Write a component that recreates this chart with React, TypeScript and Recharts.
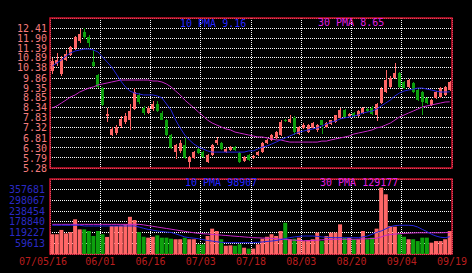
import React from 'react';
import {
  ComposedChart,
  Bar,
  Line,
  XAxis,
  YAxis,
  CartesianGrid,
  ReferenceArea,
  Cell,
} from 'recharts';

// daily prices, 88 sessions
const opens = [
  10.2, 10.6, 10.05, 10.8, 11.05, 11.4, 11.75, 12.2, 11.95, 10.7,
  10.0, 9.35, 7.95, 6.98, 7.05, 7.4, 7.6, 7.75, 8.3, 9.0,
  8.35, 8.1, 8.3, 8.55, 8.1, 7.72, 6.96, 6.1, 6.15, 6.45,
  5.6, 5.8, 6.25, 6.1, 5.6, 5.95, 6.55, 6.55, 6.1, 6.2,
  6.35, 6.05, 5.65, 5.95, 5.8, 5.95, 6.1, 6.55, 6.7, 6.8,
  6.96, 7.75, 7.6, 7.85, 7.0, 7.3, 7.1, 7.3, 7.2, 7.7,
  7.37, 7.5, 7.62, 7.85, 8.25, 7.95, 8.1, 7.95, 8.1, 8.3,
  8.35, 8.0, 8.6, 9.15, 9.41, 9.86, 10.12, 9.66, 9.41, 9.61,
  9.25, 9.15, 8.85, 8.49, 8.85, 8.9, 9.0, 9.25,
];
const highs = [
  10.9, 11.15, 11.0, 11.3, 11.5, 12.0, 12.35, 12.41, 12.05, 11.3,
  10.05, 9.4, 8.35, 7.35, 7.45, 7.95, 8.1, 8.55, 9.35, 9.1,
  8.45, 8.45, 8.7, 8.7, 8.2, 7.8, 7.0, 6.5, 6.7, 6.8,
  5.9, 6.15, 6.3, 6.15, 6.0, 6.5, 6.85, 6.6, 6.3, 6.4,
  6.4, 6.1, 5.9, 6.0, 5.95, 6.15, 6.6, 6.75, 7.0, 7.15,
  7.7, 7.8, 8.0, 7.95, 7.4, 7.55, 7.5, 7.6, 7.5, 7.75,
  7.6, 7.75, 8.0, 8.35, 8.3, 8.1, 8.15, 8.25, 8.4, 8.35,
  8.45, 8.6, 9.4, 10.27, 9.95, 10.65, 10.17, 9.7, 9.8, 9.65,
  9.3, 9.2, 8.9, 8.8, 9.2, 9.4, 9.45, 9.7,
];
const lows = [
  10.05, 10.5, 9.95, 10.75, 11.0, 11.3, 11.65, 11.85, 11.45, 10.4,
  9.35, 8.45, 7.6, 6.9, 6.95, 7.3, 7.5, 7.2, 8.25, 8.55,
  8.0, 8.05, 8.2, 8.15, 7.7, 6.9, 6.25, 5.75, 6.05, 5.75,
  5.3, 5.75, 6.0, 5.8, 5.55, 5.9, 6.45, 6.2, 6.05, 6.15,
  6.15, 5.55, 5.6, 5.65, 5.75, 5.9, 6.05, 6.5, 6.65, 6.75,
  6.9, 7.6, 7.55, 6.95, 6.95, 7.25, 7.05, 7.25, 7.1, 7.0,
  7.3, 7.45, 7.55, 7.8, 7.85, 7.9, 7.9, 7.9, 8.05, 8.15,
  8.0, 7.65, 8.55, 9.1, 9.35, 9.8, 9.35, 9.3, 9.35, 9.1,
  8.7, 7.98, 8.55, 8.45, 8.8, 8.85, 8.95, 9.2,
];
const closes = [
  10.75, 10.8, 10.85, 11.1, 11.45, 11.95, 12.1, 11.95, 11.65, 10.45,
  9.4, 8.5, 8.05, 7.27, 7.35, 7.8, 7.95, 8.2, 9.15, 8.65,
  8.1, 8.35, 8.55, 8.2, 7.75, 6.96, 6.3, 6.45, 6.55, 5.8,
  5.85, 6.1, 6.05, 5.85, 5.95, 6.45, 6.7, 6.25, 6.25, 6.35,
  6.2, 5.6, 5.85, 5.7, 5.9, 6.1, 6.55, 6.7, 6.96, 7.1,
  7.6, 7.65, 7.8, 7.1, 7.35, 7.45, 7.45, 7.55, 7.45, 7.45,
  7.57, 7.7, 7.98, 8.25, 7.9, 8.05, 7.95, 8.2, 8.35, 8.2,
  8.05, 8.55, 9.3, 9.76, 9.86, 10.12, 9.41, 9.35, 9.76, 9.15,
  8.74, 8.64, 8.6, 8.74, 9.15, 9.35, 9.4, 9.66,
];
const volumes = [
  110000, 110000, 134000, 115000, 122000, 193000, 137000, 137000, 128000, 100000,
  128000, 110000, 95000, 156000, 156000, 158000, 165000, 207000, 189000, 122000,
  96000, 91000, 96000, 104000, 91000, 91000, 85000, 82000, 82000, 91000,
  82000, 82000, 54000, 54000, 100000, 141000, 128000, 82000, 46000, 48000,
  46000, 54000, 35000, 30000, 30000, 54000, 85000, 96000, 110000, 100000,
  128000, 174000, 82000, 85000, 91000, 72000, 77000, 82000, 119000, 72000,
  100000, 119000, 119000, 165000, 91000, 91000, 82000, 82000, 128000, 82000,
  91000, 141000, 369000, 332000, 156000, 152000, 110000, 96000, 82000, 82000,
  72000, 91000, 91000, 63000, 72000, 72000, 82000, 128000,
];

// moving averages as drawn (they carry history from before the window)
const pma10 = [
  10.47, 10.63, 10.78, 10.98, 11.14, 11.24, 11.29, 11.34, 11.34, 11.29,
  11.19, 10.93, 10.68, 10.42, 10.07, 9.71, 9.41, 9.2, 9.1, 9.05,
  9.0, 9.0, 9.0, 8.95, 8.85, 8.54, 8.23, 7.72, 7.32, 6.96,
  6.71, 6.5, 6.35, 6.25, 6.15, 6.09, 6.09, 6.09, 6.09, 6.09,
  6.09, 6.09, 6.09, 6.15, 6.15, 6.25, 6.35, 6.4, 6.5, 6.6,
  6.71, 6.81, 6.91, 7.01, 7.11, 7.16, 7.22, 7.27, 7.32, 7.42,
  7.52, 7.62, 7.67, 7.78, 7.83, 7.88, 7.93, 7.98, 8.08, 8.13,
  8.18, 8.28, 8.44, 8.59, 8.74, 8.95, 9.1, 9.2, 9.25, 9.3,
  9.35, 9.35, 9.3, 9.25, 9.2, 9.15, 9.15, 9.16,
];
const pma30 = [
  8.34, 8.44, 8.59, 8.74, 8.9, 9.0, 9.15, 9.25, 9.35, 9.41,
  9.51, 9.56, 9.61, 9.66, 9.71, 9.76, 9.76, 9.76, 9.76, 9.76,
  9.76, 9.76, 9.71, 9.71, 9.66, 9.56, 9.41, 9.2, 9.0, 8.74,
  8.54, 8.34, 8.13, 7.93, 7.72, 7.57, 7.47, 7.37, 7.27, 7.22,
  7.11, 7.06, 7.01, 6.96, 6.91, 6.86, 6.86, 6.81, 6.76, 6.71,
  6.71, 6.65, 6.6, 6.6, 6.6, 6.6, 6.6, 6.6, 6.6, 6.65,
  6.65, 6.71, 6.76, 6.81, 6.86, 6.91, 7.01, 7.06, 7.11, 7.16,
  7.22, 7.32, 7.37, 7.47, 7.57, 7.72, 7.88, 7.98, 8.08, 8.18,
  8.28, 8.39, 8.44, 8.49, 8.54, 8.59, 8.64, 8.65,
];
const vma10 = [
  160000, 160000, 160000, 160000, 160000, 160000, 160000, 156000, 156000, 156000,
  156000, 156000, 156000, 156000, 156000, 156000, 156000, 156000, 156000, 150000,
  143000, 137000, 133000, 128000, 125000, 122000, 120000, 112000, 104000, 95000,
  91000, 88000, 85000, 80000, 75000, 72000, 68000, 65000, 63000, 63000,
  63000, 63000, 63000, 63000, 63000, 65000, 67000, 70000, 72000, 75000,
  80000, 86000, 91000, 95000, 98000, 100000, 100000, 100000, 98000, 95000,
  93000, 91000, 91000, 91000, 91000, 91000, 91000, 91000, 95000, 100000,
  110000, 120000, 128000, 140000, 152000, 158000, 160000, 160000, 160000, 158000,
  150000, 137000, 125000, 110000, 100000, 93000, 91000, 96000,
];
const vma30 = [
  165000, 165000, 165000, 165000, 165000, 165000, 165000, 165000, 165000, 165000,
  165000, 165000, 165000, 165000, 165000, 165000, 165000, 165000, 165000, 165000,
  162000, 158000, 154000, 150000, 146000, 142000, 138000, 134000, 130000, 126000,
  122000, 118000, 115000, 113000, 111000, 109000, 107000, 105000, 103000, 101000,
  99000, 97000, 95000, 93000, 91000, 90000, 89000, 88000, 87000, 85000,
  83000, 81000, 79000, 77000, 75000, 74000, 74000, 75000, 77000, 79000,
  80000, 81000, 82000, 82000, 82000, 82000, 82000, 83000, 84000, 85000,
  86000, 88000, 95000, 104000, 108000, 111000, 113000, 115000, 116000, 117000,
  118000, 118000, 118000, 118000, 118000, 118000, 119000, 120000,
];

const dateTicks = [0, 11, 22, 33, 44, 55, 66, 77, 88];
const dateLabels = ['07/05/16', '06/01', '06/16', '07/03', '07/18', '08/03', '08/20', '09/04', '09/19'];
const priceTicks = [5.28, 5.79, 6.3, 6.81, 7.32, 7.83, 8.34, 8.85, 9.35, 9.86, 10.38, 10.89, 11.39, 11.9, 12.41];
const volumeTicks = [59613, 119227, 178840, 238454, 298067, 357681];

const PRICE_DOMAIN: [number, number] = [5.28, 12.92];
const VOL_DOMAIN: [number, number] = [0, 417295];

const MONO = '"DejaVu Sans Mono", monospace';
const UP = '#ff6666';
const DOWN = '#0da00d';
const BORDER = '#d0102c';
const MA_BLUE = '#2424e0';
const MA_MAG = '#c828c8';

const rows = opens.map((o, i) => ({
  i,
  pos: i + 0.5,
  open: o,
  high: highs[i],
  low: lows[i],
  close: closes[i],
  range: [lows[i], highs[i]],
  vol: volumes[i],
  ma10: pma10[i],
  ma30: pma30[i],
  vma10: vma10[i],
  vma30: vma30[i],
}));

const Candle = (props: any) => {
  const { x, y, width, height, payload } = props;
  if (x == null || y == null || !payload) return null;
  const top = Math.min(y, y + height);
  const h = Math.abs(height);
  const { open, close, high, low } = payload;
  const k = high > low ? h / (high - low) : 0;
  const color = close >= open ? UP : DOWN;
  const bodyTop = top + (high - Math.max(open, close)) * k;
  const bodyH = Math.max(1, Math.abs(open - close) * k);
  const cx = Math.round(x + width / 2) + 0.5;
  return (
    <g>
      <line x1={cx} x2={cx} y1={top} y2={top + h} stroke={color} shapeRendering='crispEdges' />
      <rect x={x} y={bodyTop} width={width} height={bodyH} fill={color} shapeRendering='crispEdges' />
    </g>
  );
};

const DateTick = (props: any) => {
  const { x, y, payload } = props;
  const idx = dateTicks.indexOf(payload.value);
  return (
    <text
      x={x + (idx === 0 ? -7 : 0)}
      y={y}
      dy='0.71em'
      textAnchor='middle'
      fill='#b81e1e'
      fontSize={10}
      fontFamily={MONO}
    >
      {dateLabels[idx]}
    </text>
  );
};

const titleStyle = (left: number, top: number, color: string): React.CSSProperties => ({
  position: 'absolute',
  left,
  top,
  color,
  fontFamily: MONO,
  fontSize: 10,
  lineHeight: '10px',
  whiteSpace: 'pre',
});

const App = () => {
  return (
    <div style={{ position: 'relative', width: 472, height: 273, background: '#000', overflow: 'hidden' }}>
      <style>{'body{margin:0;background:#000}'}</style>

      <ComposedChart
        width={472}
        height={176}
        data={rows}
        margin={{ top: 18, right: 20, bottom: 8, left: 0 }}
        barCategoryGap='15%'
      >
        <XAxis dataKey='pos' type='number' domain={[0, 88]} ticks={dateTicks} hide />
        <XAxis xAxisId='c' dataKey='i' type='category' hide />
        <YAxis
          domain={PRICE_DOMAIN}
          ticks={priceTicks}
          interval={0}
          width={50}
          axisLine={false}
          tickLine={false}
          tickSize={0}
          tickMargin={3}
          tickFormatter={(v: number) => v.toFixed(2)}
          tick={{ fill: '#f47c7c', fontSize: 10, fontFamily: MONO }}
        />
        <CartesianGrid stroke='#ffffff' strokeDasharray='1 1' shapeRendering='crispEdges' />
        <Bar xAxisId='c' dataKey='range' shape={Candle} isAnimationActive={false} />
        <Line xAxisId='c' type='linear' dataKey='ma30' stroke={MA_MAG} strokeWidth={1} dot={false} isAnimationActive={false} />
        <Line xAxisId='c' type='linear' dataKey='ma10' stroke={MA_BLUE} strokeWidth={1} dot={false} isAnimationActive={false} />
        <ReferenceArea
          x1={0}
          x2={88}
          y1={PRICE_DOMAIN[0]}
          y2={PRICE_DOMAIN[1]}
          fill='none'
          fillOpacity={0}
          stroke={BORDER}
          strokeWidth={1.5}
          ifOverflow='visible'
        />
      </ComposedChart>

      <ComposedChart
        width={472}
        height={97}
        data={rows}
        margin={{ top: 3, right: 20, bottom: 0, left: 0 }}
        barCategoryGap='6%'
      >
        <XAxis
          dataKey='pos'
          type='number'
          domain={[0, 88]}
          ticks={dateTicks}
          interval={0}
          height={19}
          axisLine={false}
          tickLine={false}
          tickSize={0}
          tickMargin={4}
          tick={<DateTick />}
        />
        <XAxis xAxisId='c' dataKey='i' type='category' hide />
        <YAxis
          domain={VOL_DOMAIN}
          ticks={volumeTicks}
          interval={0}
          width={50}
          axisLine={false}
          tickLine={false}
          tickSize={0}
          tickMargin={5}
          tick={{ fill: '#2a2ac4', fontSize: 10, fontFamily: MONO }}
        />
        <CartesianGrid stroke='#ffffff' strokeDasharray='1 1' shapeRendering='crispEdges' />
        <Bar xAxisId='c' dataKey='vol' isAnimationActive={false}>
          {rows.map((r) => (
            <Cell key={r.i} fill={r.close >= r.open ? UP : DOWN} />
          ))}
        </Bar>
        <Line xAxisId='c' type='linear' dataKey='vma30' stroke={MA_MAG} strokeWidth={1} dot={false} isAnimationActive={false} />
        <Line xAxisId='c' type='linear' dataKey='vma10' stroke={MA_BLUE} strokeWidth={1} dot={false} isAnimationActive={false} />
        <ReferenceArea
          x1={0}
          x2={88}
          y1={VOL_DOMAIN[0]}
          y2={VOL_DOMAIN[1]}
          fill='none'
          fillOpacity={0}
          stroke={BORDER}
          strokeWidth={1.5}
          ifOverflow='visible'
        />
      </ComposedChart>

      <div style={titleStyle(180, 19, '#2626ff')}>10 PMA 9.16</div>
      <div style={titleStyle(318, 18, '#e020e0')}>30 PMA 8.65</div>
      <div style={titleStyle(185, 178, '#2626ff')}>10 PMA 98907</div>
      <div style={titleStyle(320, 178, '#e020e0')}>30 PMA 129177</div>
    </div>
  );
};

export default App;
